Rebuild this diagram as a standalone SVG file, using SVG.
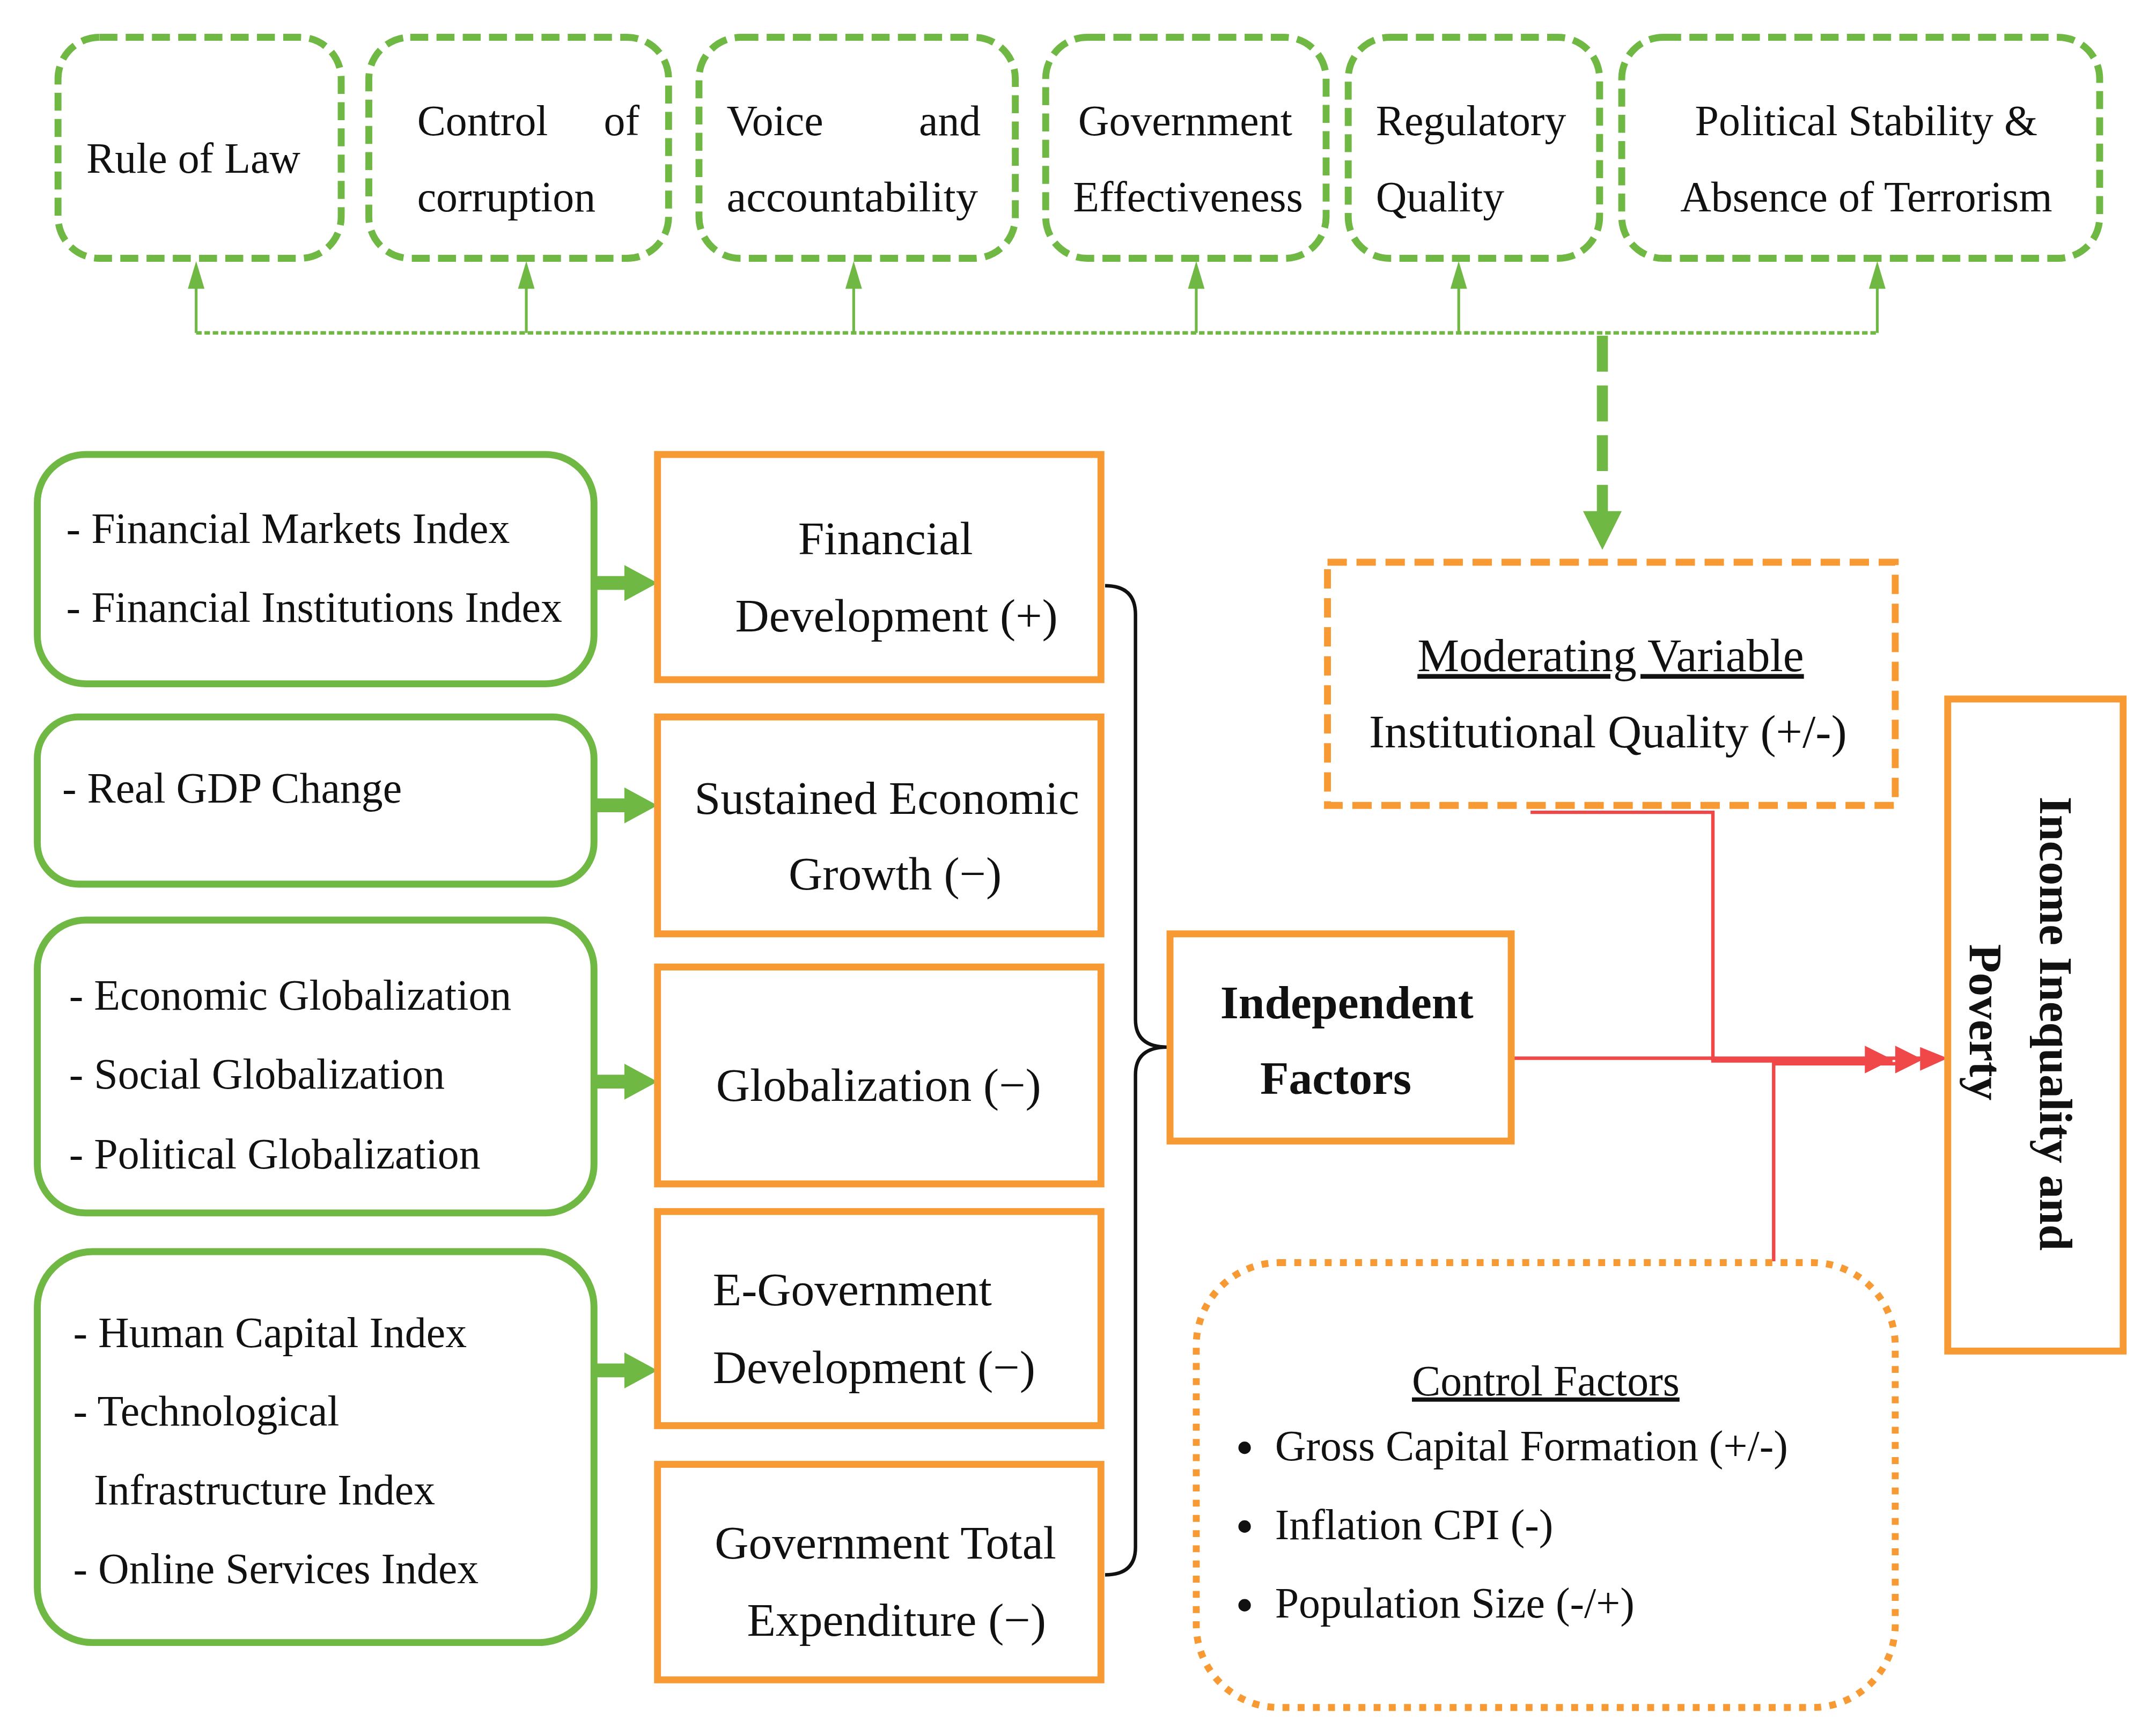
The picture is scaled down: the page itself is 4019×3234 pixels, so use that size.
<svg xmlns="http://www.w3.org/2000/svg" width="4019" height="3234" viewBox="0 0 4019 3234">
<style>
text{font-family:"Liberation Serif","Times New Roman",serif;font-size:31px;fill:#111}
.gd{fill:none;stroke:#70b844;stroke-width:5;stroke-dasharray:13 6}
.gs{fill:none;stroke:#70b844;stroke-width:5}
.ob{fill:none;stroke:#f89a34;stroke-width:5}
.od{fill:none;stroke:#f89a34;stroke-width:5;stroke-dasharray:14 7}
.oo{fill:none;stroke:#f89a34;stroke-width:5;stroke-dasharray:5 6}
.c{text-anchor:middle}
.red{stroke:#f04848;stroke-width:2.5;fill:none}
.b{font-size:34px}
</style>
<rect width="4019" height="3234" fill="#fff"/>
<g transform="scale(2.575)">
<g id="top">
<rect class="gd" x="42" y="27" width="205" height="160" rx="30"/>
<text x="140" y="125" class="c">Rule of Law</text>
<rect class="gd" x="267" y="27" width="217" height="160" rx="30"/>
<text x="302" y="98">Control</text><text x="450" y="98" class="c">of</text>
<text x="302" y="153">corruption</text>
<rect class="gd" x="506" y="27" width="229" height="160" rx="30"/>
<text x="526" y="98">Voice</text><text x="710" y="98" text-anchor="end">and</text>
<text x="526" y="153" textLength="182" lengthAdjust="spacingAndGlyphs">accountability</text>
<rect class="gd" x="757" y="27" width="203" height="160" rx="30"/>
<text x="858" y="98" class="c">Government</text>
<text x="860" y="153" class="c">Effectiveness</text>
<rect class="gd" x="976" y="27" width="182" height="160" rx="30"/>
<text x="996" y="98">Regulatory</text>
<text x="996" y="153">Quality</text>
<rect class="gd" x="1174" y="27" width="346" height="160" rx="30"/>
<text x="1351" y="98" class="c">Political Stability &amp;</text>
<text x="1351" y="153" class="c">Absence of Terrorism</text>
</g>
<g id="connectors">
<path d="M142,241 H1359" stroke="#70b844" stroke-width="2.5" stroke-dasharray="4 2" fill="none"/>
<g stroke="#70b844" stroke-width="2" fill="none">
<path d="M142,241 V205"/><path d="M381,241 V205"/><path d="M618,241 V205"/><path d="M866,241 V205"/><path d="M1056,241 V205"/><path d="M1359,241 V205"/>
</g>
<g fill="#70b844">
<path d="M136,209 L142,189 L148,209z"/><path d="M375,209 L381,189 L387,209z"/><path d="M612,209 L618,189 L624,209z"/><path d="M860,209 L866,189 L872,209z"/><path d="M1050,209 L1056,189 L1062,209z"/><path d="M1353,209 L1359,189 L1365,209z"/>
</g>
<path d="M1160,243 V372" stroke="#70b844" stroke-width="8" stroke-dasharray="26 10" fill="none"/>
<path d="M1146,370 L1174,370 L1160,398z" fill="#70b844"/>
<g fill="#70b844">
<path d="M432,417 H452 V409 L476,422 L452,435 V427 H432z"/>
<path d="M432,578 H452 V570 L476,583 L452,596 V588 H432z"/>
<path d="M432,778 H452 V770 L476,783 L452,796 V788 H432z"/>
<path d="M432,987 H452 V979 L476,992 L452,1005 V997 H432z"/>
</g>
<path d="M800,424 Q822,424 822,445 V738 Q822,758 845,758 Q822,758 822,778 V1120 Q822,1140 800,1140" fill="none" stroke="#111" stroke-width="2.5"/>
<path class="red" d="M1094,766 H1395"/>
<path class="red" d="M1108,588 H1240 V768 H1370"/>
<path class="red" d="M1284,913 V770 H1380"/>
<g fill="#f04848"><path d="M1350,757 L1370,767 L1350,777z"/><path d="M1372,757 L1392,767 L1372,777z"/><path d="M1390,758 L1410,766 L1390,775z"/></g>
</g>
<g id="moderating">
<rect class="od" x="961" y="407" width="411" height="176"/>
<text x="1166" y="486" class="c b" text-decoration="underline">Moderating Variable</text>
<text x="1164" y="541" class="c b">Institutional Quality (+/-)</text>
</g>
<g id="outcome">
<rect class="ob" x="1410" y="506" width="127" height="472"/>
<text transform="translate(1477,741) rotate(90)" class="c b" font-weight="bold">Income Inequality and</text>
<text transform="translate(1426,740) rotate(90)" class="c b" font-weight="bold">Poverty</text>
</g>
<g id="independent">
<rect class="ob" x="847" y="676" width="247" height="150"/>
<text x="975" y="737" class="c b" font-weight="bold">Independent</text>
<text x="967" y="792" class="c b" font-weight="bold">Factors</text>
</g>
<g id="control">
<rect class="oo" x="866" y="914" width="506" height="322" rx="60"/>
<text x="1119" y="1010" class="c" text-decoration="underline" font-size="29">Control Factors</text>
<g font-size="29"><circle cx="901" cy="1048" r="4.5" fill="#111"/><text x="923" y="1057">Gross Capital Formation (+/-)</text>
<circle cx="901" cy="1105" r="4.5" fill="#111"/><text x="923" y="1114">Inflation CPI (-)</text>
<circle cx="901" cy="1162" r="4.5" fill="#111"/><text x="923" y="1171">Population Size (-/+)</text></g>
</g>
<g id="left1"><rect class="gs" x="27" y="329" width="403" height="166" rx="35"/>
<text x="48" y="393">- Financial Markets Index</text><text x="48" y="450">- Financial Institutions Index</text></g>
<g id="left2"><rect class="gs" x="27" y="519" width="403" height="121" rx="30"/>
<text x="45" y="581">- Real GDP Change</text></g>
<g id="left3"><rect class="gs" x="27" y="666" width="403" height="212" rx="35"/>
<text x="50" y="731">- Economic Globalization</text><text x="50" y="788">- Social Globalization</text><text x="50" y="846">- Political Globalization</text></g>
<g id="left4"><rect class="gs" x="27" y="906" width="403" height="283" rx="40"/>
<text x="53" y="975">- Human Capital Index</text><text x="53" y="1032">- Technological</text><text x="68" y="1089">Infrastructure Index</text><text x="53" y="1146">- Online Services Index</text></g>
<g id="fd"><rect class="ob" x="476" y="329" width="321" height="163"/>
<text x="641" y="401" class="c b">Financial</text><text x="649" y="457" class="c b">Development (+)</text></g>
<g id="seg"><rect class="ob" x="476" y="519" width="321" height="157"/>
<text x="642" y="589" class="c b">Sustained Economic</text><text x="648" y="644" class="c b">Growth (−)</text></g>
<g id="glob"><rect class="ob" x="476" y="700" width="321" height="157"/>
<text x="636" y="797" class="c b">Globalization (−)</text></g>
<g id="egov"><rect class="ob" x="476" y="877" width="321" height="155"/>
<text x="516" y="945" class="b">E-Government</text><text x="516" y="1001" class="b">Development (−)</text></g>
<g id="gte"><rect class="ob" x="476" y="1060" width="321" height="156"/>
<text x="641" y="1128" class="c b">Government Total</text><text x="649" y="1184" class="c b">Expenditure (−)</text></g>
</g>
</svg>
